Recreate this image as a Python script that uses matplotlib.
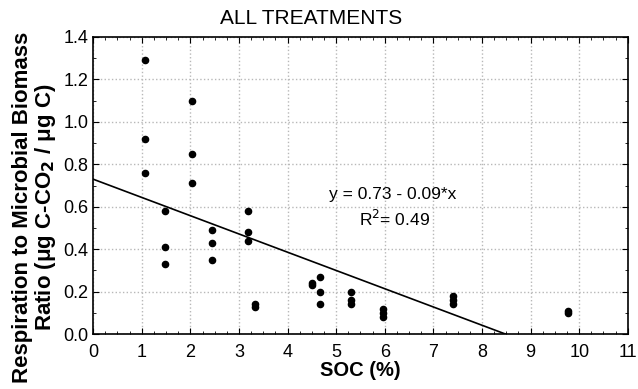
import matplotlib.pyplot as plt
from matplotlib.ticker import MultipleLocator
import numpy as np

plt.rcParams['font.family'] = ['Liberation Sans', 'DejaVu Sans']

# SOC (%) and respiration / microbial biomass ratio
soc = [1.07, 1.07, 1.07, 1.47, 1.47, 1.47, 2.03, 2.03, 2.03, 2.45, 2.45, 2.45,
       3.19, 3.19, 3.19, 3.32, 3.32, 4.50, 4.50, 4.66, 4.66, 4.66,
       5.31, 5.31, 5.31, 5.96, 5.96, 5.96, 7.40, 7.40, 7.40, 9.78, 9.78]
ratio = [1.29, 0.92, 0.76, 0.58, 0.41, 0.33, 1.10, 0.85, 0.71, 0.49, 0.43, 0.35,
         0.58, 0.48, 0.44, 0.14, 0.13, 0.24, 0.23, 0.27, 0.20, 0.14,
         0.20, 0.16, 0.14, 0.12, 0.10, 0.08, 0.18, 0.16, 0.14, 0.11, 0.10]

# fitted line
intercept = 0.73
slope = -0.086

fig = plt.figure(figsize=(6.38, 3.89), dpi=100)
ax = fig.add_axes([0.146, 0.141, 0.838, 0.764])

ax.scatter(soc, ratio, s=20, color='black', zorder=3)
xl = np.array([0, 11])
ax.plot(xl, intercept + slope * xl, color='black', lw=1.2, zorder=2)

ax.set_xlim(0, 11)
ax.set_ylim(0, 1.4)
ax.xaxis.set_major_locator(MultipleLocator(1))
ax.xaxis.set_minor_locator(MultipleLocator(0.25))
ax.yaxis.set_major_locator(MultipleLocator(0.2))
ax.yaxis.set_minor_locator(MultipleLocator(0.1))
ax.yaxis.set_major_formatter(plt.FuncFormatter(lambda v, p: f'{v:.1f}'))
ax.tick_params(which='both', direction='in', top=True, right=True, labelsize=13)
ax.tick_params(axis='x', which='major', pad=7)
ax.tick_params(which='major', length=4)
ax.tick_params(which='minor', length=2.5)
ax.grid(True, which='major', color='#b8b8b8', linestyle=':', lw=1)
for s in ax.spines.values():
    s.set_linewidth(1.2)

ax.set_xlabel('SOC (%)', fontsize=14.5, fontweight='bold', labelpad=0)
ax.set_ylabel('Respiration to Microbial Biomass\nRatio (μg C-CO$_\\mathbf{2}$ / μg C)',
              fontsize=16, fontweight='bold', linespacing=1.0)
ax.yaxis.set_label_coords(-0.065, 0.428)
fig.text(0.488, 0.952, 'ALL TREATMENTS', fontsize=15, ha='center', va='center')

ax.text(6.17, 0.66, 'y = 0.73 - 0.09*x', fontsize=12.5, ha='center', va='center')
ax.text(6.2, 0.545, 'R$^2$= 0.49', fontsize=12.5, ha='center', va='center')

fig.savefig('out.png', dpi=100)
